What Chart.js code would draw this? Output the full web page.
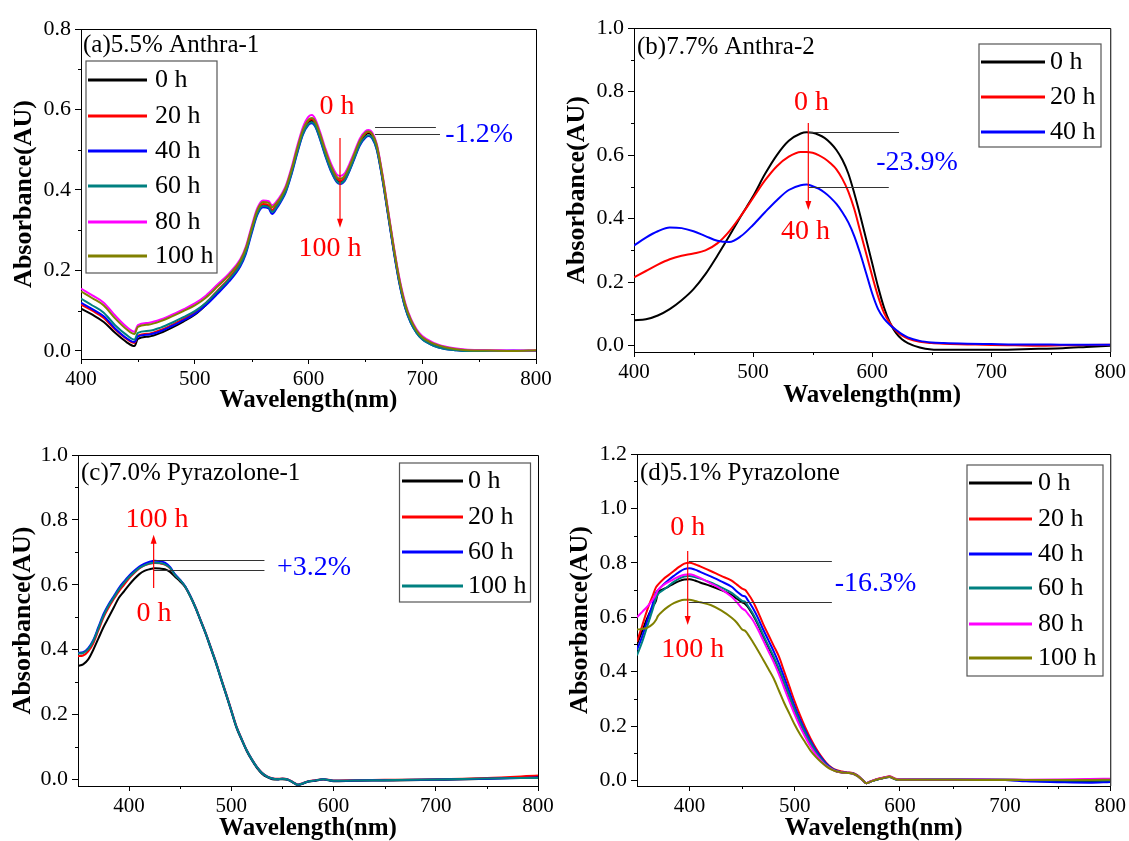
<!DOCTYPE html>
<html><head><meta charset="utf-8">
<script src="https://cdn.jsdelivr.net/npm/chart.js@4.4.1/dist/chart.umd.min.js"></script>
<style>
html,body{margin:0;padding:0;background:#fff;}
#wrap{position:relative;width:1129px;height:841px;overflow:hidden;background:#fff;}
canvas{position:absolute;left:0;top:0;}
</style></head><body>
<div id="wrap">
<canvas id="ca" width="1129" height="841"></canvas>
<canvas id="cb" width="1129" height="841"></canvas>
<canvas id="cc" width="1129" height="841"></canvas>
<canvas id="cd" width="1129" height="841"></canvas>
</div>
<script>
// ---------------- Panel (a) 5.5% Anthra-1 ----------------
const A_WL = [400,410,420,430,440,447,450,460,470,480,490,500,510,520,530,540,545,550,555,560,565,568,572,576,580,585,590,595,600,603,606,610,615,620,625,628,632,636,640,645,650,653,656,660,665,670,675,680,685,690,695,700,710,720,730,740,760,780,800];
const A_0H  = [.105,.09,.072,.045,.022,.012,.03,.036,.045,.058,.073,.09,.115,.145,.175,.215,.25,.3,.345,.362,.36,.348,.362,.378,.4,.445,.497,.543,.568,.572,.562,.532,.488,.45,.424,.42,.428,.452,.48,.515,.537,.541,.534,.505,.43,.34,.25,.17,.11,.072,.047,.031,.015,.007,.003,.001,0,0,0];
const A_20H = [.115,.1,.082,.053,.03,.02,.038,.043,.052,.065,.08,.096,.12,.15,.18,.22,.254,.303,.347,.365,.362,.35,.364,.38,.402,.447,.5,.546,.572,.576,.566,.536,.492,.454,.428,.423,.431,.455,.483,.519,.54,.544,.538,.509,.434,.344,.254,.174,.114,.075,.05,.033,.017,.008,.004,.002,.001,0,.001];
const A_40H = [.12,.104,.086,.056,.032,.022,.036,.041,.049,.062,.076,.092,.114,.142,.172,.21,.242,.292,.338,.357,.354,.34,.354,.372,.394,.438,.49,.537,.562,.566,.557,.527,.483,.445,.419,.415,.423,.447,.475,.51,.53,.534,.528,.5,.426,.336,.246,.166,.107,.069,.045,.029,.013,.005,.002,0,0,.001,0];
const A_60H = [.13,.113,.095,.064,.04,.028,.045,.05,.058,.07,.084,.099,.12,.148,.177,.214,.246,.296,.341,.36,.357,.345,.358,.375,.397,.441,.493,.539,.564,.568,.559,.529,.485,.447,.421,.417,.425,.449,.477,.512,.532,.536,.53,.502,.428,.338,.248,.168,.108,.07,.045,.029,.013,.005,.002,0,0,0,0];
const A_80H = [.155,.138,.12,.088,.06,.048,.064,.07,.078,.09,.103,.118,.138,.165,.192,.228,.26,.31,.355,.374,.372,.362,.372,.388,.41,.455,.508,.555,.582,.586,.576,.546,.502,.464,.438,.435,.442,.465,.492,.527,.546,.549,.543,.515,.44,.35,.26,.18,.12,.08,.054,.037,.02,.011,.006,.003,.002,.001,.001];
const A_100H= [.148,.131,.113,.081,.054,.042,.06,.066,.074,.086,.099,.113,.133,.16,.188,.224,.256,.305,.35,.37,.368,.357,.368,.384,.406,.45,.502,.549,.575,.579,.57,.54,.496,.458,.432,.428,.436,.459,.487,.522,.542,.545,.539,.511,.436,.346,.256,.176,.116,.077,.051,.034,.018,.009,.004,.002,.001,0,.002];
const A_LABELS = ['0 h','20 h','40 h','60 h','80 h','100 h'];
const A_X_TICKS = [400,500,600,700,800];
const A_X_MINOR = [450,550,650,750];
const A_Y_TICKS = [0,0.2,0.4,0.6,0.8];
const A_Y_MINOR = [0.1,0.3,0.5,0.7];

// ---------------- Panel (b) 7.7% Anthra-2 ----------------
const B_WL = [400,410,420,430,440,450,460,470,480,490,500,510,520,530,540,545,550,555,560,565,570,575,580,585,590,595,600,605,610,615,620,625,630,640,650,660,680,700,720,740,760,780,800];
const B_0H  = [.08,.083,.095,.115,.143,.178,.225,.283,.345,.409,.47,.54,.6,.645,.668,.672,.67,.664,.654,.638,.616,.585,.542,.48,.41,.335,.26,.185,.12,.072,.04,.02,.008,-.006,-.012,-.013,-.013,-.013,-.012,-.01,-.008,-.004,0];
const B_20H = [.215,.235,.255,.272,.283,.29,.3,.322,.36,.41,.465,.52,.565,.595,.61,.61,.607,.6,.589,.574,.555,.525,.485,.43,.36,.29,.22,.155,.103,.07,.047,.032,.022,.012,.008,.006,.004,.002,.001,0,.001,.002,.003];
const B_40H = [.315,.34,.36,.372,.37,.36,.345,.33,.326,.345,.38,.42,.458,.49,.505,.507,.502,.494,.482,.466,.446,.42,.388,.345,.29,.228,.165,.115,.085,.065,.05,.036,.026,.015,.01,.008,.006,.005,.004,.004,.003,.003,.003];
const B_LABELS = ['0 h','20 h','40 h'];
const B_X_TICKS = [400,500,600,700,800];
const B_X_MINOR = [450,550,650,750];
const B_Y_TICKS = [0,0.2,0.4,0.6,0.8,1.0];
const B_Y_MINOR = [0.1,0.3,0.5,0.7,0.9];

// ---------------- Panel (c) 7.0% Pyrazolone-1 ----------------
const C_WL = [350,355,360,365,370,375,380,385,390,395,400,405,410,415,420,425,430,435,440,445,450,455,460,465,470,475,480,485,490,495,500,505,510,515,520,525,530,535,540,545,550,555,560,565,570,575,580,590,600,620,650,700,750,800];
const C_0H  = [.35,.355,.37,.4,.435,.47,.5,.53,.56,.58,.6,.618,.633,.643,.648,.651,.65,.648,.64,.625,.61,.592,.563,.528,.488,.448,.403,.358,.308,.26,.21,.16,.123,.088,.06,.036,.018,.007,.001,0,.001,-.001,-.009,-.017,-.013,-.007,-.005,0,-.005,-.004,-.003,-.001,.002,.008];
const C_20H = [.38,.382,.395,.42,.46,.5,.53,.556,.58,.6,.62,.636,.65,.66,.665,.667,.666,.662,.651,.63,.614,.594,.565,.531,.491,.451,.407,.362,.312,.264,.214,.164,.126,.091,.063,.039,.021,.01,.004,.002,.003,.001,-.007,-.015,-.011,-.005,-.003,.001,-.003,-.002,-.001,.001,.005,.012];
const C_60H = [.39,.392,.405,.43,.47,.51,.54,.565,.59,.61,.628,.643,.656,.665,.671,.674,.673,.668,.655,.632,.615,.595,.565,.53,.49,.45,.405,.36,.31,.262,.212,.162,.125,.09,.062,.038,.02,.009,.003,.001,.002,0,-.008,-.016,-.012,-.006,-.004,.001,-.004,-.003,-.002,0,.002,.006];
const C_100H= [.388,.39,.402,.427,.466,.505,.536,.561,.586,.606,.624,.639,.652,.66,.666,.668,.667,.663,.652,.63,.614,.594,.564,.53,.49,.45,.405,.36,.31,.262,.212,.162,.125,.09,.062,.038,.02,.009,.003,.001,.002,0,-.008,-.016,-.012,-.006,-.004,.001,-.004,-.003,-.002,0,.003,.005];
const C_LABELS = ['0 h','20 h','60 h','100 h'];
const C_X_TICKS = [400,500,600,700,800];
const C_X_MINOR = [450,550,650,750];
const C_Y_TICKS = [0,0.2,0.4,0.6,0.8,1.0];
const C_Y_MINOR = [0.1,0.3,0.5,0.7,0.9];

// ---------------- Panel (d) 5.1% Pyrazolone ----------------
const D_WL = [350,355,360,365,368,370,375,380,385,390,395,400,405,410,420,430,440,445,450,453,455,460,465,470,475,480,485,490,495,500,505,510,515,520,525,530,535,540,545,550,555,560,565,568,572,580,585,590,595,600,620,650,700,720,750,780,800];
const D_0H  = [.5,.55,.6,.64,.66,.69,.703,.713,.724,.733,.739,.74,.735,.728,.715,.7,.682,.668,.655,.648,.64,.61,.573,.53,.49,.45,.405,.355,.305,.255,.21,.17,.133,.102,.077,.056,.043,.033,.03,.028,.026,.016,0,-.01,-.004,.006,.01,.013,.006,.003,.003,.003,.002,0,-.003,-.003,-.002];
const D_20H = [.51,.57,.63,.68,.71,.72,.74,.755,.77,.785,.797,.8,.795,.787,.77,.752,.735,.72,.705,.7,.69,.66,.62,.575,.535,.495,.455,.4,.345,.29,.24,.195,.155,.12,.09,.065,.048,.038,.033,.03,.028,.018,0,-.01,-.003,.008,.012,.016,.008,.004,.004,.004,.003,.002,.002,.004,.006];
const D_40H = [.48,.53,.59,.65,.69,.7,.72,.737,.752,.766,.777,.78,.775,.767,.75,.732,.712,.695,.68,.676,.665,.635,.598,.555,.515,.475,.43,.378,.325,.272,.225,.183,.145,.112,.085,.062,.046,.036,.031,.029,.027,.017,0,-.01,-.004,.006,.01,.014,.006,.003,.003,.003,.002,-.003,-.006,-.008,-.005];
const D_60H = [.46,.51,.57,.63,.67,.685,.7,.715,.73,.742,.75,.752,.748,.742,.728,.71,.69,.675,.66,.656,.645,.615,.578,.535,.495,.455,.41,.36,.31,.26,.215,.175,.138,.106,.08,.058,.044,.034,.03,.028,.026,.016,0,-.01,-.004,.006,.01,.014,.006,.004,.005,.006,.004,.002,.001,0,.001];
const D_80H = [.6,.62,.64,.665,.685,.7,.718,.73,.74,.75,.756,.758,.753,.745,.725,.703,.675,.655,.632,.625,.615,.59,.555,.515,.475,.435,.39,.34,.29,.242,.198,.16,.125,.096,.073,.054,.042,.033,.03,.028,.026,.016,0,-.01,-.003,.007,.011,.015,.007,.004,.004,.004,.003,.003,.004,.006,.007];
const D_100H= [.555,.557,.562,.575,.59,.605,.625,.64,.652,.66,.664,.664,.66,.655,.645,.625,.598,.58,.555,.55,.54,.51,.478,.444,.41,.375,.33,.285,.245,.205,.17,.14,.11,.087,.068,.052,.04,.033,.03,.028,.026,.016,0,-.01,-.004,.006,.01,.014,.006,.003,.003,.003,.002,.002,.002,.002,.003];
const D_LABELS = ['0 h','20 h','40 h','60 h','80 h','100 h'];
const D_X_TICKS = [400,500,600,700,800];
const D_X_MINOR = [450,550,650,750];
const D_Y_TICKS = [0,0.2,0.4,0.6,0.8,1.0,1.2];
const D_Y_MINOR = [0.1,0.3,0.5,0.7,0.9,1.1];

// ---------------- styling / drawing ----------------
const BLACK='#000000', RED='#ff0000', BLUE='#0000ff', TEAL='#008080', MAGENTA='#ff00ff', OLIVE='#808000';
const SERIF = '"Liberation Serif", "Times New Roman", serif';
Chart.defaults.font.family = SERIF;
Chart.defaults.animation = false;

const deco = {
  id: 'deco',
  afterDraw(chart, args, o) {
    const ctx = chart.ctx, a = chart.chartArea, xs = chart.scales.x, ys = chart.scales.y;
    ctx.save();
    // top + right frame
    ctx.strokeStyle = '#000'; ctx.lineWidth = 1;
    ctx.beginPath();
    ctx.moveTo(a.left, a.top + 0.5); ctx.lineTo(a.right + 0.5, a.top + 0.5); ctx.lineTo(a.right + 0.5, a.bottom);
    ctx.stroke();
    // minor ticks
    ctx.beginPath();
    o.xMinor.forEach(v => { const px = Math.round(xs.getPixelForValue(v)) + 0.5; ctx.moveTo(px, a.bottom); ctx.lineTo(px, a.bottom + 3); });
    o.yMinor.forEach(v => { const py = Math.round(ys.getPixelForValue(v)) + 0.5; ctx.moveTo(a.left, py); ctx.lineTo(a.left - 3, py); });
    ctx.stroke();
    // panel title
    ctx.fillStyle = '#000'; ctx.font = '25px ' + SERIF; ctx.textBaseline = 'middle'; ctx.textAlign = 'left';
    ctx.fillText(o.title.text, o.title.x, o.title.y);
    // legend
    const L = o.legend;
    ctx.fillStyle = '#fff';
    ctx.fillRect(L.box[0], L.box[1], L.box[2] - L.box[0], L.box[3] - L.box[1]);
    ctx.strokeStyle = '#555'; ctx.lineWidth = 1.2;
    ctx.strokeRect(L.box[0], L.box[1], L.box[2] - L.box[0], L.box[3] - L.box[1]);
    chart.data.datasets.forEach((ds, i) => {
      const y = L.rows[i];
      ctx.strokeStyle = ds.borderColor; ctx.lineWidth = 3;
      ctx.beginPath(); ctx.moveTo(L.line[0], y); ctx.lineTo(L.line[1], y); ctx.stroke();
      ctx.fillStyle = '#000'; ctx.font = '26px ' + SERIF; ctx.textAlign = 'left'; ctx.textBaseline = 'middle';
      ctx.fillText(ds.label, L.textX, y);
    });
    // reference lines
    ctx.strokeStyle = '#333'; ctx.lineWidth = 1;
    o.lines.forEach(l => {
      const py = Math.round(ys.getPixelForValue(l.y)) + 0.5;
      ctx.beginPath(); ctx.moveTo(xs.getPixelForValue(l.x1), py); ctx.lineTo(xs.getPixelForValue(l.x2), py); ctx.stroke();
    });
    // arrows
    o.arrows.forEach(ar => {
      const px = xs.getPixelForValue(ar.x), y1 = ys.getPixelForValue(ar.y1), y2 = ys.getPixelForValue(ar.y2);
      const dir = y2 > y1 ? 1 : -1;
      ctx.strokeStyle = RED; ctx.fillStyle = RED; ctx.lineWidth = 1.2;
      ctx.beginPath(); ctx.moveTo(px, y1); ctx.lineTo(px, y2 - dir * 6); ctx.stroke();
      ctx.beginPath(); ctx.moveTo(px, y2); ctx.lineTo(px - 3, y2 - dir * 9); ctx.lineTo(px + 3, y2 - dir * 9); ctx.closePath(); ctx.fill();
    });
    // texts
    o.texts.forEach(t => {
      ctx.fillStyle = t.c; ctx.font = '28px ' + SERIF; ctx.textAlign = 'center'; ctx.textBaseline = 'middle';
      ctx.fillText(t.t, xs.getPixelForValue(t.x), ys.getPixelForValue(t.y));
    });
    ctx.restore();
  }
};

function makeChart(id, p) {
  const n = p.series.length;
  const datasets = p.series.map((vals, i) => ({
    label: p.labels[i],
    data: p.wl.map((w, j) => ({x: w, y: vals[j]})),
    borderColor: p.colors[i],
    backgroundColor: p.colors[i],
    borderWidth: 2,
    pointRadius: 0,
    fill: false,
    cubicInterpolationMode: 'monotone',
    order: n - 1 - i
  }));
  const YW = 70;
  const box = p.area;
  return new Chart(document.getElementById(id), {
    type: 'line',
    data: { datasets },
    options: {
      responsive: false,
      animation: false,
      events: [],
      layout: { padding: { left: box.L - YW, top: box.T, right: 1129 - box.R, bottom: 841 - box.B - p.xh } },
      plugins: { legend: { display: false }, tooltip: { enabled: false }, deco: p.deco },
      scales: {
        x: {
          type: 'linear', min: p.xmin, max: p.xmax,
          afterBuildTicks: s => { s.ticks = p.xticks.map(v => ({value: v})); },
          afterFit: s => { s.height = p.xh; },
          ticks: { color: '#000', font: { family: SERIF, size: 21 }, padding: 3, maxRotation: 0, autoSkip: false, callback: v => String(v) },
          grid: { drawOnChartArea: false, drawTicks: true, tickLength: 5, color: '#000' },
          border: { display: true, color: '#000', width: 1 },
          title: { display: true, text: 'Wavelength(nm)', color: '#000', font: { family: SERIF, size: 25, weight: 'bold', lineHeight: 1 }, padding: { top: 0, bottom: p.xtpad } }
        },
        y: {
          type: 'linear', min: p.ymin, max: p.ymax,
          afterBuildTicks: s => { s.ticks = p.yticks.map(v => ({value: v})); },
          afterFit: s => { s.width = YW; },
          ticks: { color: '#000', font: { family: SERIF, size: 22 }, padding: 4, autoSkip: false, callback: v => Number(v).toFixed(1) },
          grid: { drawOnChartArea: false, drawTicks: true, tickLength: 6, color: '#000' },
          border: { display: true, color: '#000', width: 1 },
          title: { display: true, text: 'Absorbance(AU)', color: '#000', font: { family: SERIF, size: 26, weight: 'bold', lineHeight: 1 }, padding: { top: p.ytpad, bottom: 0 } }
        }
      }
    },
    plugins: [deco]
  });
}

makeChart('ca', {
  wl: A_WL, series: [A_0H, A_20H, A_40H, A_60H, A_80H, A_100H], labels: A_LABELS,
  colors: [BLACK, RED, BLUE, TEAL, MAGENTA, OLIVE],
  xmin: 400, xmax: 800, ymin: -0.02, ymax: 0.8,
  xticks: A_X_TICKS, yticks: A_Y_TICKS,
  area: { L: 81, T: 29, R: 536, B: 359 }, xh: 60, xtpad: 6, ytpad: 0,
  deco: {
    xMinor: A_X_MINOR, yMinor: A_Y_MINOR,
    title: { text: '(a)5.5% Anthra-1', x: 83, y: 45 },
    legend: { box: [86, 61, 217, 273], line: [88, 147], textX: 155, rows: [80, 116, 151, 186, 222, 256] },
    lines: [{ x1: 658.5, x2: 712, y: 0.5565 }, { x1: 658.5, x2: 715.6, y: 0.539 }],
    arrows: [{ x: 627.7, y1: 0.529, y2: 0.306 }],
    texts: [{ t: '0 h', x: 625, y: 0.606, c: RED }, { t: '100 h', x: 619, y: 0.253, c: RED }, { t: '-1.2%', x: 750, y: 0.537, c: BLUE }]
  }
});

makeChart('cb', {
  wl: B_WL, series: [B_0H, B_20H, B_40H], labels: B_LABELS,
  colors: [BLACK, RED, BLUE],
  xmin: 400, xmax: 800, ymin: -0.02, ymax: 1.0,
  xticks: B_X_TICKS, yticks: B_Y_TICKS,
  area: { L: 634, T: 28, R: 1112, B: 352 }, xh: 60, xtpad: 4, ytpad: 0,
  deco: {
    xMinor: B_X_MINOR, yMinor: B_Y_MINOR,
    title: { text: '(b)7.7% Anthra-2', x: 637, y: 47 },
    legend: { box: [979, 44, 1101, 147], line: [981, 1045], textX: 1050, rows: [62, 97, 132] },
    lines: [{ x1: 546.4, x2: 622.6, y: 0.673 }, { x1: 546.4, x2: 614, y: 0.5 }],
    arrows: [{ x: 546.4, y1: 0.701, y2: 0.427 }],
    texts: [{ t: '0 h', x: 549, y: 0.764, c: RED }, { t: '40 h', x: 544, y: 0.358, c: RED }, { t: '-23.9%', x: 637.7, y: 0.575, c: BLUE }]
  }
});

makeChart('cc', {
  wl: C_WL, series: [C_0H, C_20H, C_60H, C_100H], labels: C_LABELS,
  colors: [BLACK, RED, BLUE, TEAL],
  xmin: 350, xmax: 800, ymin: -0.02, ymax: 1.0,
  xticks: C_X_TICKS, yticks: C_Y_TICKS,
  area: { L: 78, T: 455, R: 538, B: 786 }, xh: 55, xtpad: 0, ytpad: 2,
  deco: {
    xMinor: C_X_MINOR, yMinor: C_Y_MINOR,
    title: { text: '(c)7.0% Pyrazolone-1', x: 81, y: 473 },
    legend: { box: [399.5, 463, 530.5, 602], line: [402, 463], textX: 468, rows: [481, 517, 552, 586] },
    lines: [{ x1: 424.3, x2: 532.4, y: 0.676 }, { x1: 424.3, x2: 532.4, y: 0.646 }],
    arrows: [{ x: 424, y1: 0.59, y2: 0.754 }],
    texts: [{ t: '100 h', x: 427.3, y: 0.8, c: RED }, { t: '0 h', x: 424.3, y: 0.51, c: RED }, { t: '+3.2%', x: 580.9, y: 0.652, c: BLUE }]
  }
});

makeChart('cd', {
  wl: D_WL, series: [D_0H, D_20H, D_40H, D_60H, D_80H, D_100H], labels: D_LABELS,
  colors: [BLACK, RED, BLUE, TEAL, MAGENTA, OLIVE],
  xmin: 350, xmax: 800, ymin: -0.02, ymax: 1.2,
  xticks: D_X_TICKS, yticks: D_Y_TICKS,
  area: { L: 637, T: 454, R: 1113, B: 786 }, xh: 55, xtpad: 0, ytpad: 0,
  deco: {
    xMinor: D_X_MINOR, yMinor: D_Y_MINOR,
    title: { text: '(d)5.1% Pyrazolone', x: 640, y: 473 },
    legend: { box: [967, 465, 1103, 676], line: [969, 1032], textX: 1038, rows: [483, 519, 554, 588, 624, 658] },
    lines: [{ x1: 399.2, x2: 535.3, y: 0.807 }, { x1: 399.2, x2: 535.3, y: 0.656 }],
    arrows: [{ x: 398.2, y1: 0.844, y2: 0.572 }],
    texts: [{ t: '0 h', x: 398.2, y: 0.928, c: RED }, { t: '100 h', x: 403, y: 0.48, c: RED }, { t: '-16.3%', x: 576.9, y: 0.722, c: BLUE }]
  }
});
</script>
</body></html>
